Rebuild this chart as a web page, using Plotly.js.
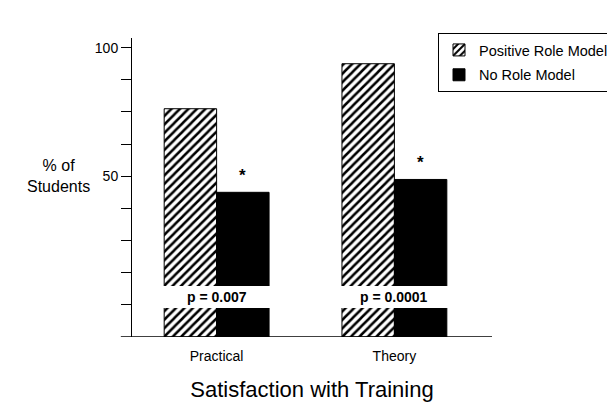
<!DOCTYPE html>
<html>
<head>
<meta charset="utf-8">
<script src="https://cdn.plot.ly/plotly-3.0.1.min.js"></script>
<style>html,body{margin:0;padding:0;background:#fff;}#chart{width:607px;height:402px;}</style>
</head>
<body>
<div id="chart"></div>
<script>
const categories = ['Practical', 'Theory'];
const seriesNames = ['Positive Role Model', 'No Role Model'];
const positiveRoleModel = [71, 85];
const noRoleModel = [45, 49];
const pValueLabels = ['p = 0.007', 'p = 0.0001'];
const significanceMarks = ['*', '*'];
const yTickValues = [10, 20, 30, 40, 50, 60, 70, 80, 90];
const yTickLabels = ['', '', '', '', '50', '', '', '', '100'];
const pBand = [9.0, 15.9];

const FONT = 'Liberation Sans, Arial, Helvetica, sans-serif';
const bargap = 0.41;
const barW = (1 - bargap) / 2;

const traces = [
  {
    type: 'bar', name: seriesNames[0], x: categories, y: positiveRoleModel,
    legendgroup: 'a',
    marker: {color: '#ffffff', line: {color: '#000', width: 1},
      pattern: {shape: '/', size: 6, solidity: 0.42, fgcolor: '#000', bgcolor: '#fff', fillmode: 'replace'}},
    hoverinfo: 'skip'
  },
  {
    type: 'bar', name: seriesNames[1], x: categories, y: noRoleModel,
    legendgroup: 'b',
    marker: {color: '#000000', line: {color: '#000', width: 1}},
    hoverinfo: 'skip'
  }
];

const shapes = [
  {type: 'line', xref: 'paper', yref: 'y', x0: -0.031, x1: 1, y0: 0, y1: 0,
   line: {color: '#000', width: 1.5}}
];
const annotations = [
  {xref: 'paper', yref: 'y', x: -0.205, y: 50, text: '% of<br>Students', showarrow: false,
   font: {family: FONT, size: 16, color: '#000'}, align: 'center', xanchor: 'center', yanchor: 'middle'}
];
categories.forEach((c, i) => {
  shapes.push({type: 'rect', xref: 'x', yref: 'y', x0: i - barW - 0.01, x1: i + barW + 0.01,
    y0: pBand[0], y1: pBand[1], fillcolor: '#fff', line: {width: 0}, layer: 'above'});
  annotations.push({xref: 'x', yref: 'y', x: i, y: (pBand[0] + pBand[1]) / 2, text: '<b>' + pValueLabels[i] + '</b>',
    showarrow: false, font: {family: FONT, size: 14, color: '#000'}, xanchor: 'center', yanchor: 'middle'});
  annotations.push({xref: 'x', yref: 'y', x: i + barW / 2, y: noRoleModel[i], text: '<b>' + significanceMarks[i] + '</b>',
    showarrow: false, font: {family: FONT, size: 17, color: '#000'}, xanchor: 'center', yanchor: 'middle', yshift: 17});
});

const layout = {
  width: 607, height: 402,
  margin: {l: 132, r: 115, t: 38, b: 65, autoexpand: false},
  paper_bgcolor: '#fff', plot_bgcolor: '#fff',
  font: {family: FONT, color: '#000'},
  barmode: 'group', bargap: bargap, bargroupgap: 0,
  showlegend: true,
  legend: {xref: 'container', yref: 'container', x: 438 / 607, y: 1 - 33 / 402, xanchor: 'left', yanchor: 'top',
    bordercolor: '#000', borderwidth: 1, bgcolor: '#fff', font: {family: FONT, size: 14.5, color: '#000'},
    traceorder: 'grouped', tracegroupgap: 3},
  xaxis: {type: 'category', range: [-0.476, 1.549], showline: false, showgrid: false, zeroline: false,
    ticks: '', ticklabelstandoff: 9, tickfont: {family: FONT, size: 14, color: '#000'},
    title: {text: 'Satisfaction with Training', font: {family: FONT, size: 22, color: '#000'}, standoff: 26},
    fixedrange: true},
  yaxis: {range: [0, 93], showline: true, linecolor: '#000', linewidth: 1, showgrid: false, zeroline: false,
    ticks: 'outside', ticklen: 10, tickwidth: 1, tickcolor: '#000',
    tickmode: 'array', tickvals: yTickValues, ticktext: yTickLabels,
    tickfont: {family: FONT, size: 14, color: '#000'}, fixedrange: true},
  shapes: shapes,
  annotations: annotations
};

Plotly.newPlot('chart', traces, layout, {displayModeBar: false, staticPlot: true});
</script>
</body>
</html>
